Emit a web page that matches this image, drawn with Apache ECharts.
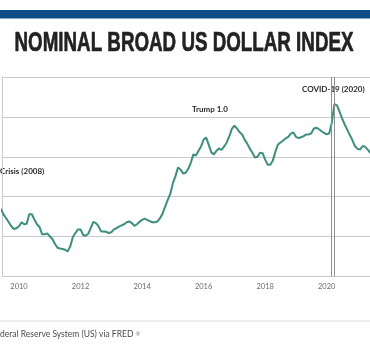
<!DOCTYPE html>
<html><head><meta charset="utf-8">
<script src="https://cdn.jsdelivr.net/npm/echarts@6/dist/echarts.min.js"></script>
<style>html,body{margin:0;padding:0;background:#fff}#c{width:370px;height:355px}</style>
</head><body><div id="c"></div>
<script>
const months = [
 '2009-05','2009-06','2009-07','2009-08','2009-09','2009-10','2009-11','2009-12',
 '2010-01','2010-02','2010-03','2010-04','2010-05','2010-06','2010-07','2010-08','2010-09','2010-10','2010-11','2010-12',
 '2011-01','2011-02','2011-03','2011-04','2011-05','2011-06','2011-07','2011-08','2011-09','2011-10','2011-11','2011-12',
 '2012-01','2012-02','2012-03','2012-04','2012-05','2012-06','2012-07','2012-08','2012-09','2012-10','2012-11','2012-12',
 '2013-01','2013-02','2013-03','2013-04','2013-05','2013-06','2013-07','2013-08','2013-09','2013-10','2013-11','2013-12',
 '2014-01','2014-02','2014-03','2014-04','2014-05','2014-06','2014-07','2014-08','2014-09','2014-10','2014-11','2014-12',
 '2015-01','2015-02','2015-03','2015-04','2015-05','2015-06','2015-07','2015-08','2015-09','2015-10','2015-11','2015-12',
 '2016-01','2016-02','2016-03','2016-04','2016-05','2016-06','2016-07','2016-08','2016-09','2016-10','2016-11','2016-12',
 '2017-01','2017-02','2017-03','2017-04','2017-05','2017-06','2017-07','2017-08','2017-09','2017-10','2017-11','2017-12',
 '2018-01','2018-02','2018-03','2018-04','2018-05','2018-06','2018-07','2018-08','2018-09','2018-10','2018-11','2018-12',
 '2019-01','2019-02','2019-03','2019-04','2019-05','2019-06','2019-07','2019-08','2019-09','2019-10','2019-11','2019-12',
 '2020-01','2020-02','2020-03','2020-04','2020-05','2020-06','2020-07','2020-08','2020-09','2020-10','2020-11','2020-12',
 '2021-01','2021-02','2021-03','2021-04','2021-05','2021-06','2021-07'
];
const dollarIndex = [
 97.5,96.8,95.5,94.6,93.6,92.6,91.9,92.1,
 92.6,93.6,93.1,93.2,95.6,95.6,94.3,93.1,92.4,90.6,90.6,90.8,
 90.1,89.4,88.2,87.2,87.0,86.9,86.7,86.3,87.6,89.9,90.9,91.8,
 91.8,90.4,90.2,90.7,92.2,93.7,93.4,92.6,91.3,91.3,91.2,90.9,
 91.1,91.8,92.1,92.5,92.8,93.1,93.6,93.8,93.4,92.7,93.1,93.7,
 94.2,94.5,94.2,93.9,93.6,93.6,93.8,94.6,95.8,97.5,99.2,100.7,
 103.4,105.1,107.3,106.8,105.8,106.0,107.0,108.5,110.6,110.3,111.5,112.6,
 114.3,114.8,113.0,111.1,110.6,111.5,112.1,111.7,112.6,113.6,115.1,117.0,
 117.8,117.1,116.2,115.6,114.3,113.3,112.1,111.0,109.8,110.0,111.0,110.9,
 109.3,108.0,108.0,109.1,111.3,113.1,113.6,114.1,114.6,115.0,115.8,116.1,
 115.0,114.7,114.9,115.2,115.6,115.6,115.9,117.1,117.3,116.9,116.4,116.0,
 115.6,115.9,118.6,123.2,122.9,121.3,119.6,118.1,116.8,115.5,114.2,112.7,
 112.0,111.8,112.7,112.5,111.8,111.0,110.8
];
const yearTicks = [2010, 2012, 2014, 2016, 2018, 2020];
const recessionBounds = [2020.14, 2020.26];
const titleText = 'NOMINAL BROAD US DOLLAR INDEX';
const noteTrump = 'Trump 1.0';
const noteCovid = 'COVID-19 (2020)';
const noteCrisis = 'Crisis (2008)';
const sourceText = 'deral Reserve System (US) via FRED';

function toYear(s){ const p = s.split('-').map(Number); return p[0] + (p[1]-1)/12; }
const seriesData = months.map((m,i)=>[toYear(m), dollarIndex[i]]);

// fit the title horizontally to the reference width (condensed look)
const titleFont = {family:'"Liberation Sans", Arial, sans-serif', size:28.5};
const mctx = document.createElement('canvas').getContext('2d');
mctx.font = 'bold ' + titleFont.size + 'px ' + titleFont.family;
const titleW = mctx.measureText(titleText).width || 500;
const titleScale = 339 / titleW;

const chart = echarts.init(document.getElementById('c'), null, {renderer:'canvas'});
const gridC = '#cacaca';
const noteFont = {fontFamily:'Lato', fontWeight:'bold', fontSize:8, fill:'#2b2b2b', textVerticalAlign:'middle'};
chart.setOption({
  animation:false,
  backgroundColor:'#ffffff',
  grid:{left:2, right:0, top:77, bottom:78.5},
  xAxis:{type:'value', min:2009.4475, max:2021.407,
    axisLine:{show:true, lineStyle:{color:gridC, width:1}},
    axisTick:{show:false}, splitLine:{show:false},
    axisLabel:{customValues:yearTicks, formatter:v=>String(Math.round(v)), color:'#6a6a6a', fontSize:7.5, fontFamily:'Lato', margin:6}
  },
  yAxis:{type:'value', min:80, max:130, interval:10,
    axisLabel:{show:false}, axisTick:{show:false},
    axisLine:{show:true, lineStyle:{color:gridC, width:1}},
    splitLine:{show:true, lineStyle:{color:gridC, width:1}}
  },
  series:[{
    type:'line', data:seriesData, showSymbol:false, silent:true,
    lineStyle:{color:'#3c8e7e', width:2}, itemStyle:{color:'#3c8e7e'},
    markLine:{silent:true, symbol:['none','none'], label:{show:false},
      lineStyle:{color:'#8f8f8f', width:1, type:'solid'},
      data: recessionBounds.map(x=>({xAxis:x}))}
  }],
  graphic:[
    {type:'rect', shape:{x:0, y:10, width:370, height:8.5}, style:{fill:'#0e4c87'}},
    {type:'text', x:184, y:43.5, scaleX:titleScale, style:{text:titleText, fontFamily:titleFont.family, fontWeight:'bold', fontSize:titleFont.size, fill:'#222222', stroke:'#222222', lineWidth:0.7, textAlign:'center', textVerticalAlign:'middle'}},
    {type:'text', x:192, y:109, style:Object.assign({text:noteTrump, textAlign:'left'}, noteFont)},
    {type:'text', x:302, y:89, style:Object.assign({text:noteCovid, textAlign:'left'}, noteFont)},
    {type:'text', x:0, y:171, style:Object.assign({text:noteCrisis, textAlign:'left'}, noteFont)},
    {type:'rect', shape:{x:0, y:320.5, width:370, height:1}, style:{fill:'#dcdcdc'}},
    {type:'text', x:0, y:334, style:{text:sourceText + ' {r|®}', fontFamily:'Lato', fontSize:8.5, fill:'#4a4a4a', textAlign:'left', textVerticalAlign:'middle',
      rich:{r:{fontSize:6, fill:'#8a8a8a', fontFamily:'Lato'}}}}
  ]
});
</script></body></html>
